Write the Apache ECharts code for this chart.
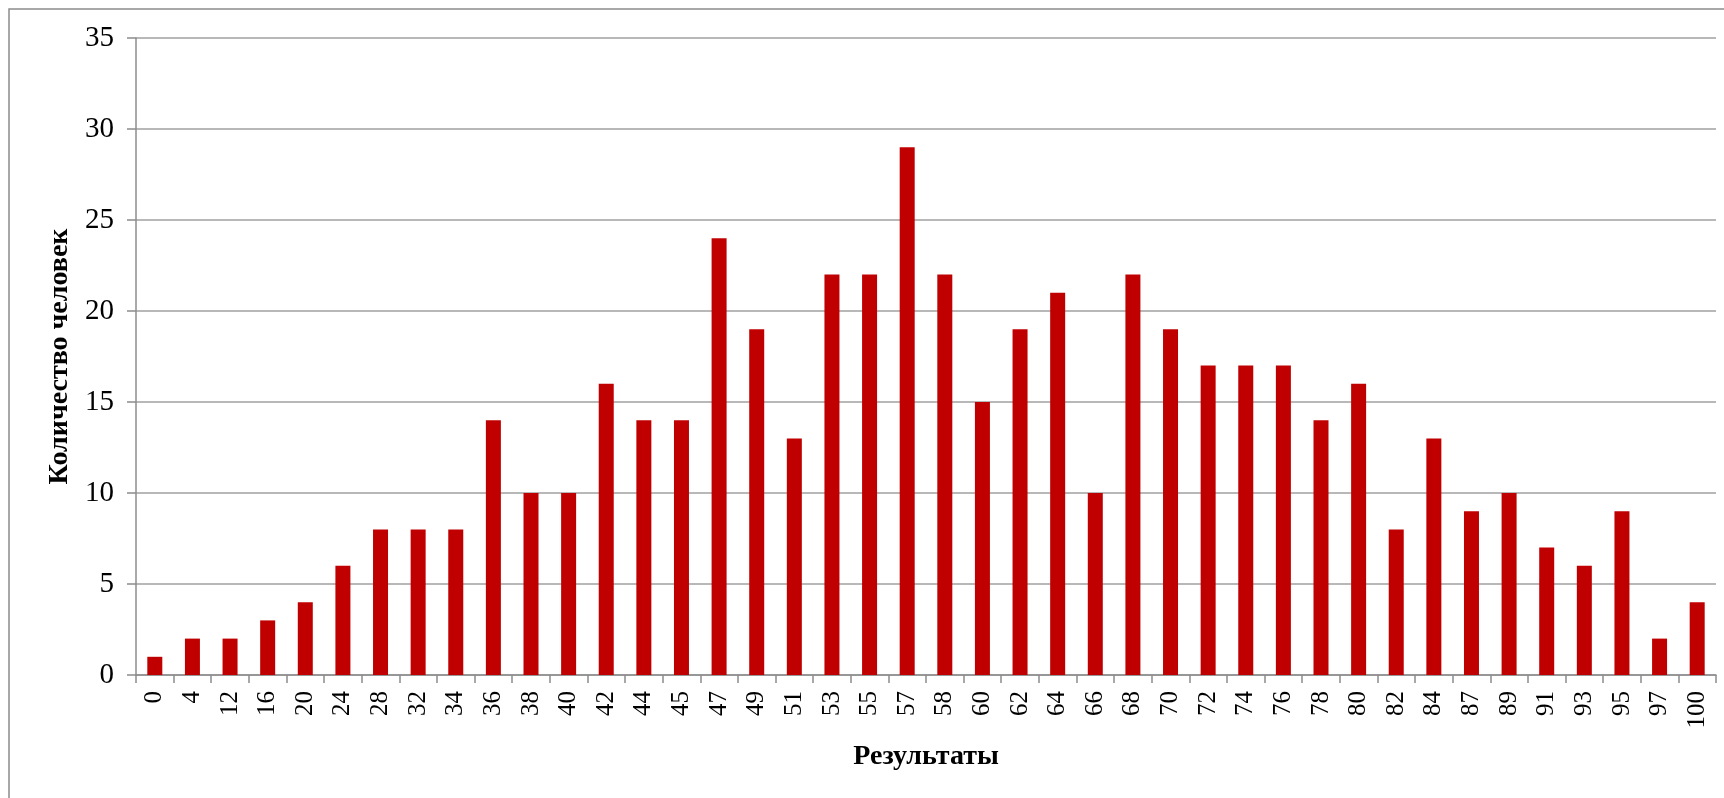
<!DOCTYPE html>
<html>
<head>
<meta charset="utf-8">
<script src="https://cdn.jsdelivr.net/npm/echarts@6/dist/echarts.min.js"></script>
<style>
html,body{margin:0;padding:0;background:#fff;}
#chart{width:1724px;height:798px;}
</style>
</head>
<body>
<div id="chart"></div>
<script>
const categories = ['0','4','12','16','20','24','28','32','34','36','38','40','42','44','45','47','49','51','53','55','57','58','60','62','64','66','68','70','72','74','76','78','80','82','84','87','89','91','93','95','97','100'];
const counts = [1,2,2,3,4,6,8,8,8,14,10,10,16,14,14,24,19,13,22,22,29,22,15,19,21,10,22,19,17,17,17,14,16,8,13,9,10,7,6,9,2,4];
const yTitle = 'Количество человек';
const xTitle = 'Результаты';

const chart = echarts.init(document.getElementById('chart'), null, {renderer:'canvas'});
const serif = '"Liberation Serif", "DejaVu Serif", serif';
chart.setOption({
  animation: false,
  backgroundColor: '#fff',
  graphic: [{
    type: 'rect',
    shape: {x: 9, y: 9, width: 1730, height: 800},
    style: {fill: 'none', stroke: '#8c8c8c', lineWidth: 1.5},
    silent: true
  }],
  grid: {left: 136, right: 8, top: 38, bottom: 123, containLabel: false},
  xAxis: {
    type: 'category',
    data: categories,
    name: xTitle,
    nameLocation: 'middle',
    nameGap: 68,
    nameTextStyle: {fontFamily: serif, fontSize: 28, fontWeight: 'bold', color: '#000'},
    axisLine: {lineStyle: {color: '#8c8c8c', width: 1.5}},
    axisTick: {show: true, length: 8, lineStyle: {color: '#8c8c8c', width: 1.5}},
    axisLabel: {rotate: 90, interval: 0, margin: 16, fontFamily: serif, fontSize: 25, color: '#000'}
  },
  yAxis: {
    type: 'value',
    min: 0, max: 35, interval: 5,
    name: yTitle,
    nameLocation: 'middle',
    nameGap: 59,
    nameRotate: 90,
    nameTextStyle: {fontFamily: serif, fontSize: 28, fontWeight: 'bold', color: '#000'},
    axisLine: {show: true, lineStyle: {color: '#8c8c8c', width: 1.5}},
    axisTick: {show: true, length: 9, lineStyle: {color: '#8c8c8c', width: 1.5}},
    axisLabel: {margin: 22, fontFamily: serif, fontSize: 29, color: '#000'},
    splitLine: {show: true, lineStyle: {color: '#a0a0a0', width: 1.5}}
  },
  series: [{
    type: 'bar',
    data: counts,
    barWidth: 15,
    itemStyle: {color: '#C00000'}
  }]
});
</script>
</body>
</html>
